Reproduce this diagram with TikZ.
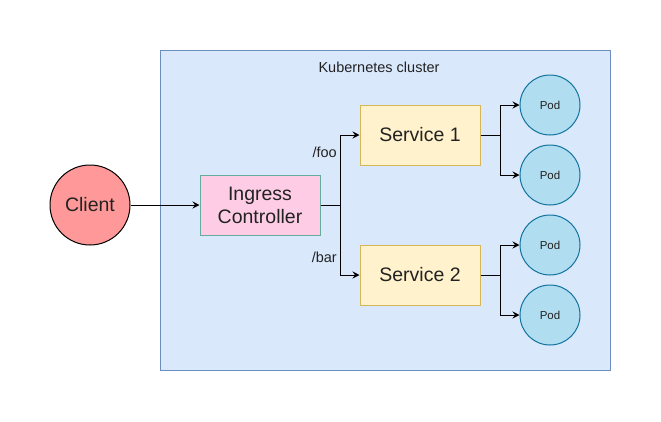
\documentclass[tikz,border=0pt]{standalone}
\usepackage{fontspec}
\setmainfont{Liberation Sans}
\usetikzlibrary{arrows.meta}
\definecolor{clusterfill}{HTML}{DAE8FC}
\definecolor{clusterdraw}{HTML}{6C8EBF}
\definecolor{clientfill}{HTML}{FF9999}
\definecolor{ingfill}{HTML}{FFCCE6}
\definecolor{ingdraw}{HTML}{67AB9F}
\definecolor{svcfill}{HTML}{FFF2CC}
\definecolor{svcdraw}{HTML}{D6B656}
\definecolor{podfill}{HTML}{B1DDF0}
\definecolor{poddraw}{HTML}{10739E}
\definecolor{txt}{HTML}{222222}
\tikzset{
  big/.style={font=\fontsize{19.5}{23}\selectfont, text=txt},
  boxstyle/.style={rectangle, minimum width=120pt, minimum height=60pt, inner sep=0pt, line width=1pt, align=center, big},
  ingbox/.style={boxstyle, fill=ingfill, draw=ingdraw},
  svcbox/.style={boxstyle, fill=svcfill, draw=svcdraw},
  podnode/.style={circle, minimum size=60pt, inner sep=0pt, fill=podfill, draw=poddraw, line width=1pt, font=\fontsize{11.5}{13}\selectfont, text=txt},
  clientnode/.style={circle, minimum size=80pt, inner sep=0pt, fill=clientfill, draw=black, line width=1pt, big},
  small/.style={font=\fontsize{14.5}{17}\selectfont, text=txt, inner sep=0pt},
  conn/.style={line width=1pt, -{Stealth[length=7pt,width=7pt,inset=2.5pt]}},
}
\begin{document}
\begin{tikzpicture}[x=1pt,y=-1pt]
\useasboundingbox (0,0) rectangle (661,421);
\fill[white] (0,0) rectangle (661,421);
\node[rectangle, fill=clusterfill, draw=clusterdraw, line width=1pt, minimum width=450pt, minimum height=320pt, inner sep=0pt] (cluster) at (385,210) {};
\node[small] (title) at (379,67) {Kubernetes cluster};
\node[clientnode] (client) at (90,205) {Client};
\node[ingbox] (ing) at (260,205) {Ingress\\Controller};
\node[svcbox] (s1) at (420,135) {Service 1};
\node[svcbox] (s2) at (420,275) {Service 2};
\node[podnode] (p1) at (550,105) {Pod};
\node[podnode] (p2) at (550,175) {Pod};
\node[podnode] (p3) at (550,245) {Pod};
\node[podnode] (p4) at (550,315) {Pod};
\coordinate (j) at (340,205);
\coordinate (j1) at (500,135);
\coordinate (j2) at (500,275);
\node[small, anchor=east] (foo) at (337,152) {/foo};
\node[small, anchor=east] (bar) at (337,257) {/bar};
\draw[conn] (client) -- (ing);
\draw[conn] (ing.east) -- (j) |- (s1.west);
\draw[conn] (ing.east) -- (j) |- (s2.west);
\draw[conn] (s1.east) -- (j1) |- (p1.west);
\draw[conn] (s1.east) -- (j1) |- (p2.west);
\draw[conn] (s2.east) -- (j2) |- (p3.west);
\draw[conn] (s2.east) -- (j2) |- (p4.west);
\end{tikzpicture}
\end{document}
